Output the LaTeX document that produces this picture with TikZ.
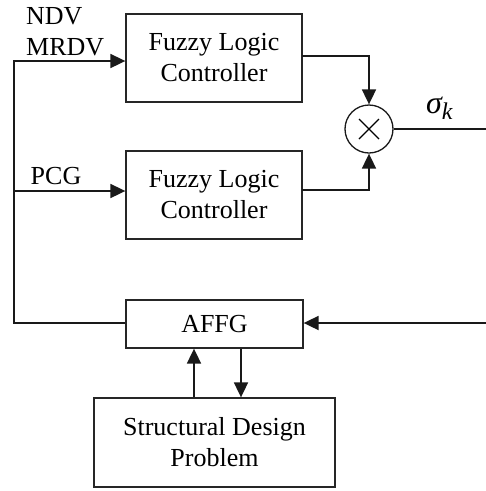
\documentclass[tikz,border=0pt]{standalone}
\usepackage{fontspec}
\setmainfont{Liberation Serif}
\usetikzlibrary{arrows.meta}
\begin{document}
\begin{tikzpicture}[x=1pt,y=-1pt,
  blk/.style={draw=black!85,line width=1.3pt,align=center,inner sep=0pt,font=\fontsize{26}{31}\selectfont},
  lbl/.style={font=\fontsize{26}{31}\selectfont,inner sep=0pt},
  conn/.style={line width=1.8pt,black!90},
  arr/.style={conn,-{Triangle[length=15pt,width=14pt]}}]
\useasboundingbox (0,0) rectangle (486,491);
\node[blk,minimum width=176pt,minimum height=88pt] (b1) at (214,58) {Fuzzy Logic\\Controller};
\node[blk,minimum width=176pt,minimum height=88pt] (b2) at (214,195) {Fuzzy Logic\\Controller};
\node[blk,minimum width=177pt,minimum height=48pt] (affg) at (214.5,324) {AFFG};
\node[blk,minimum width=241pt,minimum height=89pt] (sdp) at (214.5,442.5) {Structural Design\\Problem};
\node[draw=black!90,line width=1.3pt,circle,minimum size=48pt,inner sep=0pt] (mul) at (369,129) {};
\draw[line width=1.3pt] ([shift={(-10pt,-10pt)}]mul.center) -- ([shift={(10pt,10pt)}]mul.center);
\draw[line width=1.3pt] ([shift={(-10pt,10pt)}]mul.center) -- ([shift={(10pt,-10pt)}]mul.center);
\node[lbl,align=left,anchor=west] (in1) at (26,32) {NDV\\MRDV};
\node[lbl] (in2) at (56,176) {PCG};
\node[lbl,font=\fontsize{32}{32}\selectfont\itshape,anchor=base west] (sig) at (426,113) {σ\raisebox{-6pt}{\fontsize{24}{24}\selectfont k}};
\coordinate (L1) at (14,61);
\coordinate (L2) at (14,191);
\coordinate (Lb) at (14,323);
\coordinate (R) at (486,323);
\coordinate (out) at (486,129);
\coordinate (o1) at (302,56);
\coordinate (o2) at (302,190);
\draw[arr] (affg.west |- Lb) -- (Lb) -- (L1) -- (b1.west |- L1);
\draw[arr] (L2) -- (b2.west |- L2);
\draw[arr] (R) -- (affg.east |- R);
\draw[conn] (mul.east) -- (out);
\draw[arr] (o1) -| (mul.north);
\draw[arr] (o2) -| (mul.south);
\draw[arr] (sdp.north -| 194,0) -- (affg.south -| 194,0);
\draw[arr] (affg.south -| 241,0) -- (sdp.north -| 241,0);
\end{tikzpicture}
\end{document}
